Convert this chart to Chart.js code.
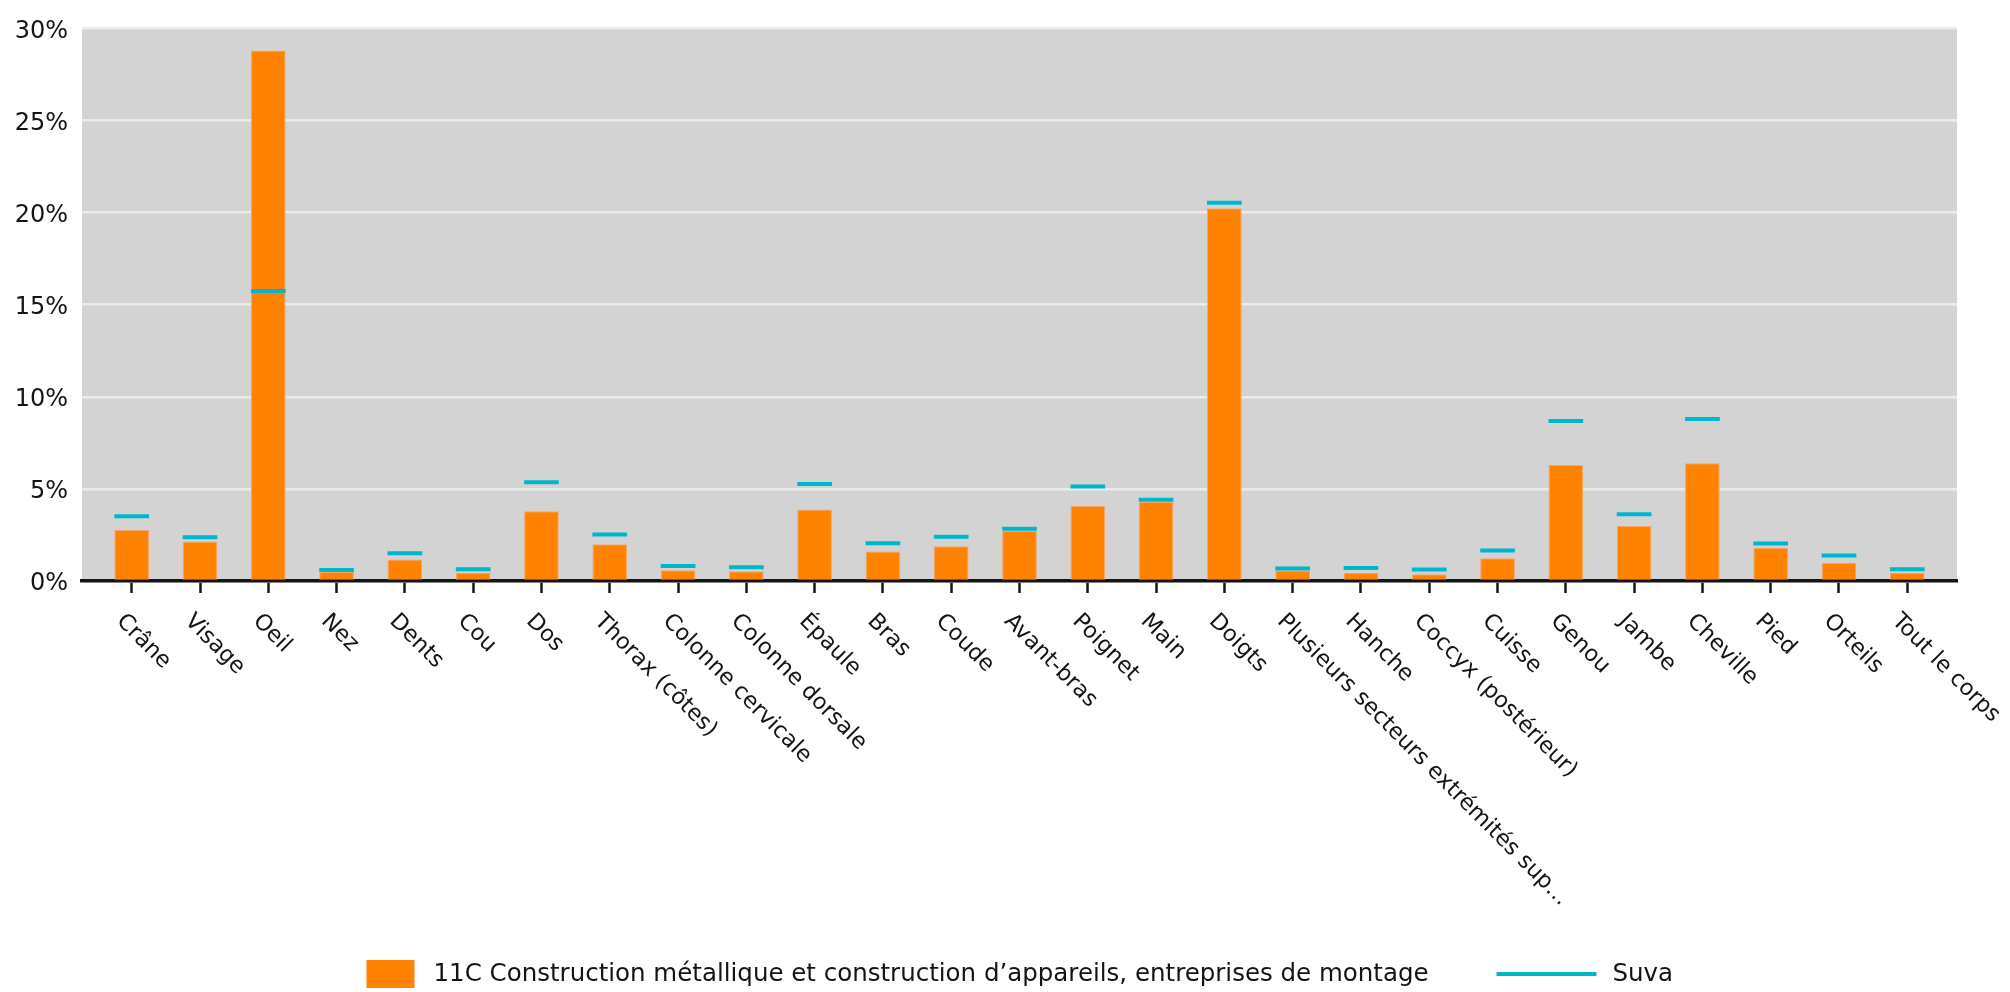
<!DOCTYPE html>
<html>
<head>
<meta charset="utf-8">
<script src="https://cdn.jsdelivr.net/npm/chart.js@4.4.0/dist/chart.umd.min.js"></script>
<style>
  html, body { margin: 0; padding: 0; background: #fff; }
  canvas { display: block; }
</style>
</head>
<body>
<canvas id="chartCanvas" width="2010" height="992"></canvas>
<script>
// body parts (categories)
const categories = [
    "Crâne", "Visage", "Oeil", "Nez", "Dents", "Cou", "Dos", "Thorax (côtes)",
    "Colonne cervicale", "Colonne dorsale", "Épaule", "Bras", "Coude", "Avant-bras",
    "Poignet", "Main", "Doigts", "Plusieurs secteurs extrémités sup…", "Hanche",
    "Coccyx (postérieur)", "Cuisse", "Genou", "Jambe", "Cheville", "Pied", "Orteils",
    "Tout le corps"
];

// share of accidents in %
const branchValues = [
    2.77, 2.14, 28.8, 0.49, 1.17, 0.45, 3.78, 1.99, 0.58, 0.53, 3.88, 1.60, 1.89, 2.71,
    4.07, 4.29, 20.23, 0.57, 0.45, 0.37, 1.23, 6.30, 2.98, 6.39, 1.81, 0.99, 0.45
];
const suvaValues = [
    3.52, 2.38, 15.75, 0.60, 1.50, 0.64, 5.36, 2.53, 0.82, 0.74, 5.26, 2.05, 2.40, 2.83,
    5.13, 4.41, 20.53, 0.68, 0.70, 0.62, 1.66, 8.69, 3.63, 8.79, 2.03, 1.38, 0.64
];

const branchLabel = "11C Construction métallique et construction d’appareils, entreprises de montage";
const suvaLabel = "Suva";

const FONT = '"DejaVu Sans", Verdana, sans-serif';
const ORANGE = "#ff8300";
const CYAN = "#00b6cc";
const TEXT = "#141414";
const edgeGap = 0.728; // extra room left/right of first and last category

// grey plot background
const plotBackground = {
    id: "plotBackground",
    beforeDraw(chart) {
        const { ctx, chartArea: a } = chart;
        ctx.save();
        ctx.fillStyle = "#d3d3d3";
        ctx.fillRect(a.left, a.top, a.right - a.left, a.bottom - a.top);
        ctx.restore();
    }
};

// category labels slanted down to the right
const slantedLabels = {
    id: "slantedLabels",
    afterDraw(chart) {
        const { ctx } = chart;
        const xs = chart.scales.x;
        ctx.save();
        ctx.font = "22.5px " + FONT;
        ctx.fillStyle = TEXT;
        ctx.textAlign = "left";
        ctx.textBaseline = "top";
        xs.ticks.forEach((t, i) => {
            const x = xs.getPixelForTick(i);
            ctx.save();
            ctx.translate(x - 4, xs.top + 29);
            ctx.rotate(Math.PI / 4);
            ctx.fillText(categories[i], 0, 0);
            ctx.restore();
        });
        ctx.restore();
    }
};

// legend row: orange box for the branch, cyan dash for Suva
const legendRow = {
    id: "legendRow",
    afterDraw(chart) {
        const { ctx, chartArea: a } = chart;
        const cx = (a.left + a.right) / 2;
        const y = 974;
        ctx.save();
        ctx.font = "24.5px " + FONT;
        ctx.textBaseline = "middle";
        ctx.textAlign = "left";

        const b = chart.data.datasets[0];
        const bx = cx - 653;
        ctx.fillStyle = b.backgroundColor;
        ctx.fillRect(bx, y - 14, 48, 28);
        ctx.fillStyle = TEXT;
        ctx.fillText(b.label, bx + 67, y + 1);

        const s = chart.data.datasets[1];
        const sx = cx + 477;
        ctx.strokeStyle = s.pointBorderColor;
        ctx.lineWidth = 4;
        ctx.beginPath();
        ctx.moveTo(sx, y);
        ctx.lineTo(sx + 100, y);
        ctx.stroke();
        ctx.fillText(s.label, sx + 116, y + 1);
        ctx.restore();
    }
};

const ctx = document.getElementById("chartCanvas").getContext("2d");
const chart = new Chart(ctx, {
    type: "bar",
    data: {
        labels: categories,
        datasets: [
            {
                type: "bar",
                label: branchLabel,
                data: branchValues,
                backgroundColor: ORANGE,
                borderColor: "#f5a766",
                borderWidth: 1,
                categoryPercentage: 1,
                barPercentage: 0.508,
                order: 1
            },
            {
                type: "line",
                label: suvaLabel,
                data: suvaValues,
                showLine: false,
                pointStyle: "line",
                pointRadius: 17.35,
                pointHoverRadius: 17.35,
                pointBorderWidth: 4,
                pointBorderColor: CYAN,
                borderColor: CYAN,
                order: 0
            }
        ]
    },
    options: {
        responsive: false,
        animation: false,
        devicePixelRatio: 1,
        layout: { padding: { top: 21, right: 53, left: 0, bottom: 0 } },
        plugins: {
            legend: { display: false },
            tooltip: { enabled: false }
        },
        scales: {
            x: {
                offset: true,
                afterBuildTicks: (scale) => {
                    scale._startValue = -edgeGap;
                    scale._valueRange = categories.length - 1 + 2 * edgeGap;
                },
                afterFit: (scale) => { scale.height = 411; },
                ticks: { display: false, autoSkip: false },
                grid: {
                    offset: false,
                    drawOnChartArea: false,
                    drawTicks: true,
                    tickLength: 12,
                    tickWidth: 2.5,
                    tickColor: TEXT
                },
                border: { display: true, color: TEXT, width: 3.5 }
            },
            y: {
                min: 0,
                max: 30,
                afterFit: (scale) => { scale.width = 82; },
                ticks: {
                    stepSize: 5,
                    padding: 14,
                    labelOffset: 3,
                    color: TEXT,
                    font: { family: FONT, size: 24 },
                    callback: (v) => v + "%"
                },
                grid: { color: "#ebebeb", lineWidth: 2.5, drawTicks: false },
                border: { display: false }
            }
        }
    },
    plugins: [plotBackground, slantedLabels, legendRow]
});
</script>
</body>
</html>
